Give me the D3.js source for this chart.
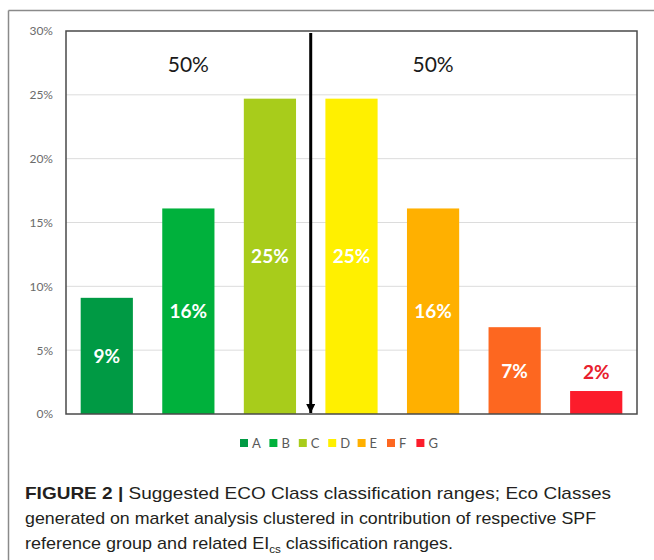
<!DOCTYPE html>
<html>
<head>
<meta charset="utf-8">
<script src="https://cdn.jsdelivr.net/npm/d3@7"></script>
<style>
  body { margin: 0; background: #fff; }
  svg { display: block; }
</style>
</head>
<body>
<div id="chart"></div>
<script>
// data
const classes = ["A", "B", "C", "D", "E", "F", "G"];
const shares = [9.1, 16.1, 24.7, 24.7, 16.1, 6.8, 1.8];
const shareLabels = ["9%", "16%", "25%", "25%", "16%", "7%", "2%"];
const classColors = ["#009a44", "#00b13c", "#a8cc1b", "#fff000", "#ffb000", "#fd6720", "#fc1c2b"];
const yTicks = [0, 5, 10, 15, 20, 25, 30];
const halfLabels = ["50%", "50%"];
const captionLines = [
  "Suggested ECO Class classification ranges; Eco Classes",
  "generated on market analysis clustered in contribution of respective SPF",
  "reference group and related EI"
];

const W = 654, H = 560;
const plot = { left: 66, right: 637, top: 31, bottom: 414 };
const chartFont = "Lato, 'Open Sans', sans-serif";

const svg = d3.select("#chart").append("svg").attr("width", W).attr("height", H);

// outer frame (top + left rule)
svg.append("line").attr("x1", 8.5).attr("x2", W).attr("y1", 10.5).attr("y2", 10.5)
  .attr("stroke", "#8a8a8a").attr("stroke-width", 1.5);
svg.append("line").attr("x1", 8.5).attr("x2", 8.5).attr("y1", 10.5).attr("y2", H)
  .attr("stroke", "#8a8a8a").attr("stroke-width", 1.5);

const x = d3.scaleBand().domain(classes)
  .range([plot.left, plot.right]).paddingInner(0.36).paddingOuter(0.18);
const y = d3.scaleLinear().domain([0, 30]).range([plot.bottom, plot.top]);

// gridlines
svg.append("g").selectAll("line").data(yTicks.filter(d => d > 0 && d < 30)).join("line")
  .attr("x1", plot.left).attr("x2", plot.right)
  .attr("y1", d => y(d)).attr("y2", d => y(d))
  .attr("stroke", "#dcdcdc").attr("stroke-width", 1);

// y axis labels
const yAxis = d3.axisLeft(y).tickValues(yTicks).tickFormat(d => d + "%").tickSize(0).tickPadding(13);
svg.append("g").attr("transform", `translate(${plot.left},0)`).call(yAxis)
  .call(g => g.select(".domain").remove())
  .selectAll("text").attr("fill", "#6b6b6b").style("font-family", chartFont).style("font-size", "12px");

// bars
svg.append("g").selectAll("rect").data(classes).join("rect")
  .attr("x", d => x(d)).attr("width", x.bandwidth())
  .attr("y", (d, i) => y(shares[i])).attr("height", (d, i) => y(0) - y(shares[i]))
  .attr("fill", (d, i) => classColors[i]);

// plot box
svg.append("rect").attr("x", plot.left).attr("y", plot.top)
  .attr("width", plot.right - plot.left).attr("height", plot.bottom - plot.top)
  .attr("fill", "none").attr("stroke", "#4a4a4a").attr("stroke-width", 1.5);

// value labels
svg.append("g").selectAll("text").data(classes).join("text")
  .attr("x", d => x(d) + x.bandwidth() / 2)
  .attr("y", (d, i) => {
    const top = y(shares[i]);
    return i === 6 ? top - 12 : (top + y(0)) / 2 + 7;
  })
  .attr("text-anchor", "middle")
  .attr("fill", (d, i) => i === 6 ? "#e8202d" : "#fff")
  .style("font-family", chartFont).style("font-weight", "bold").style("font-size", "19px")
  .text((d, i) => shareLabels[i]);

// dividing arrow between C and D
const divX = (x("C") + x.bandwidth() + x("D")) / 2;
svg.append("defs").append("marker").attr("id", "head")
  .attr("viewBox", "0 0 10 10").attr("refX", 10).attr("refY", 5)
  .attr("markerUnits", "userSpaceOnUse").attr("markerWidth", 9).attr("markerHeight", 9)
  .attr("orient", "auto")
  .append("path").attr("d", "M0,0 L10,5 L0,10 Z").attr("fill", "#000");
svg.append("line").attr("x1", divX).attr("x2", divX).attr("y1", 33).attr("y2", y(0) - 1)
  .attr("stroke", "#000").attr("stroke-width", 3).attr("marker-end", "url(#head)");

// 50% / 50% labels
const halfX = [(x("B") + x.bandwidth() / 2), (x("E") + x.bandwidth() / 2)];
svg.append("g").selectAll("text").data(halfLabels).join("text")
  .attr("x", (d, i) => halfX[i]).attr("y", 72)
  .attr("text-anchor", "middle").attr("fill", "#1a1a1a")
  .style("font-family", chartFont).style("font-size", "21px")
  .text(d => d);

// legend
const legend = svg.append("g").selectAll("g").data(classes).join("g")
  .attr("transform", (d, i) => `translate(${240 + i * 29.4},439)`);
legend.append("rect").attr("width", 8).attr("height", 8).attr("fill", (d, i) => classColors[i]);
legend.append("text").attr("x", 12).attr("y", 8.5)
  .attr("fill", "#595959").style("font-family", chartFont).style("font-size", "13px")
  .text(d => d);

// caption
const capFont = "'Liberation Sans', Arial, sans-serif";
const cap = svg.append("g").style("font-family", capFont).style("font-size", "17px").attr("fill", "#231f20");
const line1 = cap.append("text").attr("x", 25).attr("y", 499)
  .attr("textLength", 586).attr("lengthAdjust", "spacingAndGlyphs");
line1.append("tspan").style("font-weight", "bold").text("FIGURE 2 | ");
line1.append("tspan").text(captionLines[0]);
cap.append("text").attr("x", 25).attr("y", 524)
  .attr("textLength", 571).attr("lengthAdjust", "spacingAndGlyphs").text(captionLines[1]);
const line3 = cap.append("text").attr("x", 25).attr("y", 549)
  .attr("textLength", 428).attr("lengthAdjust", "spacingAndGlyphs");
line3.append("tspan").text(captionLines[2]);
line3.append("tspan").attr("dy", 4).style("font-size", "11px").text("cs");
line3.append("tspan").attr("dy", -4).text(" classification ranges.");
</script>
</body>
</html>
